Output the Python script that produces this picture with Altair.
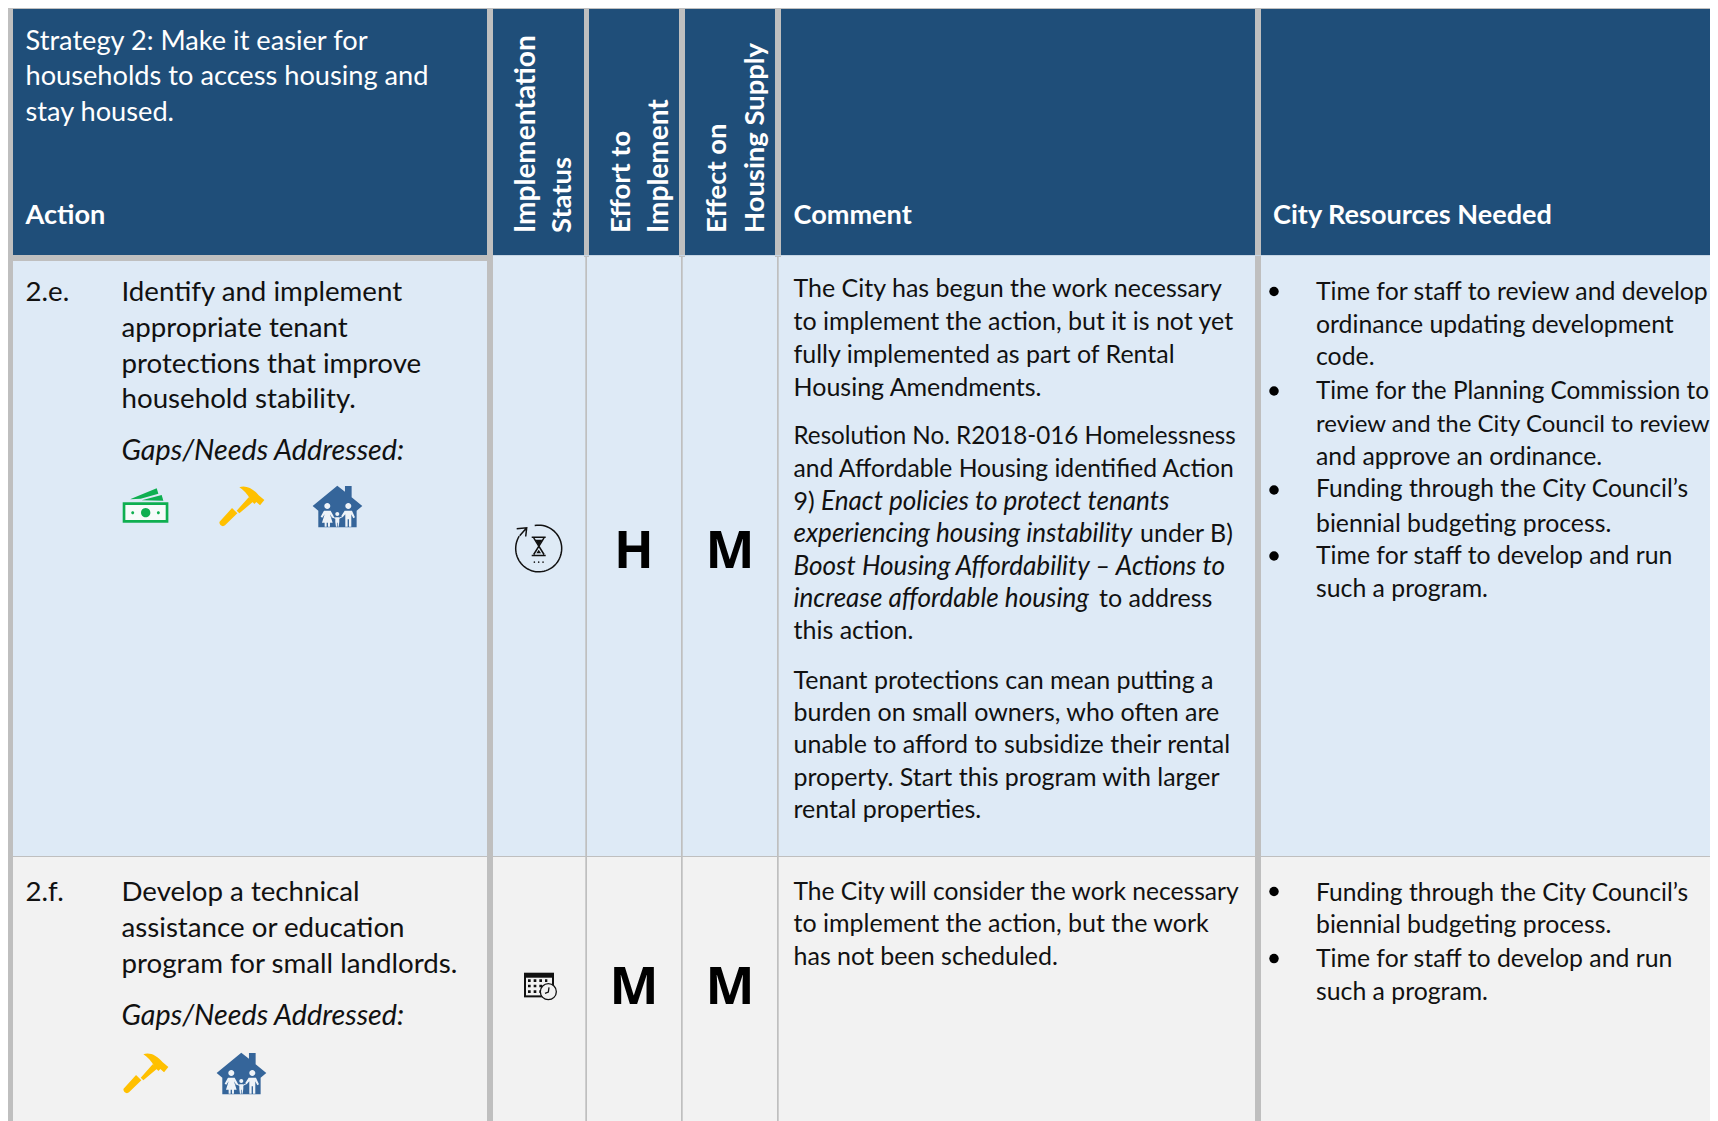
import re, math
import altair as alt
import pandas as pd

# ---------- table content ----------
HEADER = "#1F4E79"; GRID = "#BFBFBF"; ROW_A = "#DEEAF6"; ROW_B = "#F2F2F2"

strategy_lines = ["Strategy 2: Make it easier for", "households to access housing and", "stay housed."]
strategy_base = [50, 85, 120.5]
header_labels = ["Action", "Comment", "City Resources Needed"]
header_x = [25.5, 793.5, 1273]
rot_long = [("Implementation", 535, 233), ("Implement", 668, 233)]
rot_short = [("Status", 571, 233), ("Effort to", 630, 233), ("Effect on", 726, 233), ("Housing Supply", 764, 233)]

row_ids = ["2.e.", "2.f."]
row_id_base = [301, 901]
action_e = ["Identify and implement", "appropriate tenant", "protections that improve", "household stability."]
action_e_base = [301, 337, 372.5, 408]
action_f = ["Develop a technical", "assistance or education", "program for small landlords."]
action_f_base = [901, 937, 972.5]
gaps_label = "Gaps/Needs Addressed:"
gaps_base = [460, 1024.5]

comment_plain = [
    ("The City has begun the work necessary", 793.5, 297),
    ("to implement the action, but it is not yet", 793.5, 329.8),
    ("fully implemented as part of Rental", 793.5, 362.5),
    ("Housing Amendments.", 793.5, 396),
    ("9)", 793.5, 509.5),
    ("under B)", 1140, 541.7),
    ("to address", 1099, 606.7),
    ("this action.", 793.5, 639),
    ("Tenant protections can mean putting a", 793.5, 689),
    ("burden on small owners, who often are", 793.5, 720.5),
    ("unable to afford to subsidize their rental", 793.5, 753),
    ("property.  Start this program with larger", 793.5, 785.5),
    ("rental properties.", 793.5, 818),
    ("to implement the action, but the work", 793.5, 931.5),
    ("has not been scheduled.", 793.5, 964.5),
]
comment_tight = [("Resolution No. R2018-016 Homelessness", 793.5, 443.7)]
comment_mid = [("and Affordable Housing identified Action", 793.5, 476.5),
               ("The City will consider the work necessary", 793.5, 899.8)]
comment_italic = [
    ("Enact policies to protect tenants", 821, 509.5),
    ("experiencing housing instability", 793.5, 541.7),
    ("Boost Housing Affordability – Actions to", 793.5, 574.5),
    ("increase affordable housing", 793.5, 606.7),
]
comment_wide = comment_mid[1:]
comment_mid = comment_mid[:1]

res_a_lines = ["Time for staff to review and develop", "ordinance updating development", "code.",
               "and approve an ordinance.", "biennial budgeting process.",
               "Time for staff to develop and run", "such a program.",
               "biennial budgeting process.",
               "Time for staff to develop and run", "such a program."]
res_a_base = [300, 332.7, 365.4, 465, 532, 564, 597, 933.4, 967, 1000]
res_b_lines = ["Funding through the City Council’s", "Funding through the City Council’s"]
res_b_base = [497, 900.5]
res_c_lines = ["Time for the Planning Commission to"]
res_c_base = [399]
res_d_lines = ["review and the City Council to review"]
res_d_base = [432]
bullets_y = [291.5, 391, 490, 556, 891.5, 958.6]
ratings = [("H", 634, 568), ("M", 730, 568), ("M", 634, 1004), ("M", 730, 1004)]

# ---------- helpers ----------
X = alt.X("x:Q", axis=None, scale=alt.Scale(domain=[8, 1710], range=[0, 1702], nice=False, zero=False))
Y = alt.Y("y:Q", axis=None, scale=alt.Scale(domain=[8, 1121], range=[0, 1113], nice=False, zero=False))
X2 = alt.X2("x2:Q"); Y2 = alt.Y2("y2:Q")
layers = []

def rects(items):
    df = pd.DataFrame(items, columns=["x", "x2", "y", "y2", "c"])
    return alt.Chart(df).mark_rect(strokeWidth=0).encode(
        x=X, x2=X2, y=Y, y2=Y2, color=alt.Color("c:N", scale=None, legend=None))

def text(items, font="Lato", size=24, weight="normal", style="normal", color="#111111", angle=0, align="left"):
    df = pd.DataFrame(items, columns=["t", "x", "y"])
    return alt.Chart(df).mark_text(font=font, fontSize=size, fontWeight=weight, fontStyle=style,
                                   color=color, align=align, baseline="alphabetic", angle=angle).encode(
        x=X, y=Y, text="t:N")

def circ(cx, cy, r):
    k = 0.5523 * r
    return (f"M{cx-r},{cy} C{cx-r},{cy-k} {cx-k},{cy-r} {cx},{cy-r} C{cx+k},{cy-r} {cx+r},{cy-k} {cx+r},{cy} "
            f"C{cx+r},{cy+k} {cx+k},{cy+r} {cx},{cy+r} C{cx-k},{cy+r} {cx-r},{cy+k} {cx-r},{cy} Z ")

def norm(d, cx, cy, half):
    tokens = re.findall(r"[A-Za-z]|-?\d+\.?\d*", d)
    out, i = [], 0
    for t in tokens:
        if t.isalpha():
            out.append(t)
        else:
            v = float(t)
            v = (v - cx) / half if i % 2 == 0 else (v - cy) / half
            out.append(f"{v:.4f}")
            i += 1
    return " ".join(out)

def icon(path, where, px, fill=None, stroke=None, sw=1.5):
    df = pd.DataFrame(where, columns=["x", "y"])
    if fill:
        m = alt.Chart(df).mark_point(shape=path, size=px * px, filled=True, fill=fill, strokeWidth=0, opacity=1)
    else:
        m = alt.Chart(df).mark_point(shape=path, size=px * px, filled=False, stroke=stroke, strokeWidth=sw, opacity=1)
    return m.encode(x=X, y=Y)

# ---------- cells and rules ----------
cells = [
    (8, 1710, 8, 1121, GRID),
    (13, 1710, 9, 255, HEADER),
    (13, 487, 261, 856, ROW_A), (13, 487, 857, 1121, ROW_B),
    (493, 1255, 255, 856, ROW_A), (493, 1255, 857, 1121, ROW_B),
    (1261, 1710, 255, 856, ROW_A), (1261, 1710, 857, 1121, ROW_B),
    (487, 493, 9, 1121, GRID), (1255, 1261, 9, 1121, GRID),
    (584, 589, 9, 257, GRID), (679, 685, 9, 257, GRID), (775, 781, 9, 257, GRID),
    (585.3, 587, 255, 1121, GRID), (681, 682.7, 255, 1121, GRID), (777, 778.7, 255, 1121, GRID),
    (493, 1710, 255, 256, "#C6D5E4"),
]
layers.append(rects(cells))

# ---------- text ----------
WHITE = "#FFFFFF"
BODY = 27.7; NOTE = 25.0; RES = 24.8
layers.append(text([(s, 25.5, b) for s, b in zip(strategy_lines, strategy_base)], size=27.2, color=WHITE))
layers.append(text(list(zip(header_labels, header_x, [224] * 3)), size=27.1, weight="bold", color=WHITE))
layers.append(text(rot_long, size=28, weight="bold", color=WHITE, angle=270))
layers.append(text(rot_short, size=27.4, weight="bold", color=WHITE, angle=270))
layers.append(text([(row_ids[0], 25.5, row_id_base[0]), (row_ids[1], 25.5, row_id_base[1])], size=BODY))
layers.append(text([(s, 121.5, b) for s, b in zip(action_e, action_e_base)] +
                   [(s, 121.5, b) for s, b in zip(action_f, action_f_base)], size=BODY))
layers.append(text([(gaps_label, 121.5, b) for b in gaps_base], size=28.7, style="italic"))
layers.append(text(comment_plain, size=NOTE))
layers.append(text(comment_tight, size=24.2))
layers.append(text(comment_mid, size=24.7))
layers.append(text(comment_wide, size=24.6))
layers.append(text(comment_italic, size=26.1, style="italic"))
layers.append(text([(s, 1316, b) for s, b in zip(res_a_lines, res_a_base)], size=RES))
layers.append(text([(s, 1316, b) for s, b in zip(res_b_lines, res_b_base)], size=24.6))
layers.append(text([(s, 1316, b) for s, b in zip(res_c_lines, res_c_base)], size=24.3))
layers.append(text([(s, 1316, b) for s, b in zip(res_d_lines, res_d_base)], size=24.0))
layers.append(text(ratings, font="Open Sans", size=52, weight="bold", color="#000000", align="center"))
layers.append(alt.Chart(pd.DataFrame({"x": [1274] * len(bullets_y), "y": bullets_y})).mark_point(
    shape="circle", size=90, filled=True, fill="#000000", opacity=1, strokeWidth=0).encode(x=X, y=Y))

# ---------- icons ----------
GREEN = "#0FAF50"; GOLD = "#FFC000"; BLUE = "#35659A"; SIL = "#EEF3F8"

money = lambda d: norm(d, 137, 105, 75)
m_where = [(145.7, 505)]
layers.append(icon(money("M68,97 L205,97 L205,158 L68,158 Z M90,88 L170,55 L175,71 L122,86 Z M125,91 L185,75 L190,92 Z"), m_where, 50, fill=GREEN))
layers.append(icon(money("M76,105 L197,105 L197,150 L76,150 Z"), m_where, 50, fill="#F7FBFA"))
layers.append(icon(money(circ(137, 128, 14) + circ(98, 128, 4.5) + circ(175, 128, 4.5)), m_where, 50, fill=GREEN))

hammer = norm("M88,22 C105,14 130,25 146,46 L163,60 L150,76 L139,66 L133,72 L122,60 C112,42 100,30 88,22 Z "
              "M116,52 L128,66 L88,100 L80,92 Z M66,84 L82,100 L45,136 C38,142 28,136 28,126 Z", 95, 75, 75)
layers.append(icon(hammer, [(241.7, 505), (145.7, 1072)], 50, fill=GOLD))

house_where = [(337.3, 506.7), (241.3, 1073.7)]
house = norm("M382,17 L405,35 L405,18 L425,18 L425,52 L457,78 L440,92 L440,142 L325,142 L325,92 L308,78 Z", 382, 80, 80)
people = norm(circ(352, 78, 9) + circ(415, 78, 9) + circ(382, 102, 6) +
              "M342,92 L362,92 L372,110 L367,113 L360,103 L368,128 L360,128 L360,140 L354,140 L354,128 L350,128 "
              "L350,140 L344,140 L344,128 L336,128 L344,103 L337,113 L332,110 Z "
              "M404,92 L426,92 L435,112 L430,115 L424,103 L424,140 L417,140 L417,118 L413,118 L413,140 L406,140 "
              "L406,103 L398,112 L394,108 Z "
              "M376,112 L388,112 L388,126 L386,140 L383,140 L383,128 L381,128 L381,140 L378,140 L376,126 Z "
              "M365,108 L376,113 L376,116 L364,112 Z M388,113 L397,108 L398,111 L388,116 Z", 382, 80, 80)
layers.append(icon(house, house_where, 53.33, fill=BLUE))
layers.append(icon(people, house_where, 53.33, fill=SIL))

# in-progress icon: circle runs clockwise from the top round to the arrow tail
hg = lambda d: norm(d, 101, 104, 90)
hg_where = [(538.7, 548.5)]
arc_pts = []
for k in range(0, 61):
    a = math.radians(-100 + k * 5.2)
    arc_pts.append((101 + 69 * math.cos(a), 104 + 70 * math.sin(a)))
arc = "M" + " L".join(f"{p[0]:.1f},{p[1]:.1f}" for p in arc_pts) + " "
layers.append(icon(hg(arc + "M35,45 L65,42 L62,68 M65,42 L44,66 M80,70 L122,70 M80,125 L122,125 "
                      "M86,72 L117,122 M117,72 L86,122"), hg_where, 60, stroke="#111111", sw=1.5))
layers.append(icon(hg("M91,78 L112,78 L101,96 Z M94,118 L108,118 L101,108 Z " + circ(88, 145, 2.5) + circ(101, 145, 2.5) + circ(114, 145, 2.5)),
                   hg_where, 60, fill="#111111"))

# scheduled icon
cal = lambda d: norm(d, 90, 80, 60)
c_where = [(540, 986.7)]
layers.append(icon(cal("M42,38 L132,38 L132,112 L42,112 Z"), c_where, 40, fill="#111111"))
layers.append(icon(cal("M48,53 L126,53 L126,106 L48,106 Z"), c_where, 40, fill=ROW_B))
dots = ""
for gy in (62, 78, 95):
    for gx in (58, 75, 92):
        dots += f"M{gx-4},{gy-4} L{gx+4},{gy-4} L{gx+4},{gy+4} L{gx-4},{gy+4} Z "
layers.append(icon(cal(dots + "M105,58 L112,58 L112,66 L105,66 Z"), c_where, 40, fill="#111111"))
layers.append(icon(cal(circ(115, 95, 24)), c_where, 40, fill=ROW_B))
layers.append(icon(cal(circ(115, 95, 24) + "M117,82 L115,96 L105,100"), c_where, 40, stroke="#111111", sw=1.3))

chart = alt.layer(*layers).properties(
    width=1702, height=1113, padding=0,
    autosize=alt.AutoSizeParams(type="none", contains="content"),
    background="#FFFFFF",
).configure_view(stroke=None)

chart.save("out.html", embed_options={"renderer": "svg", "actions": False})
